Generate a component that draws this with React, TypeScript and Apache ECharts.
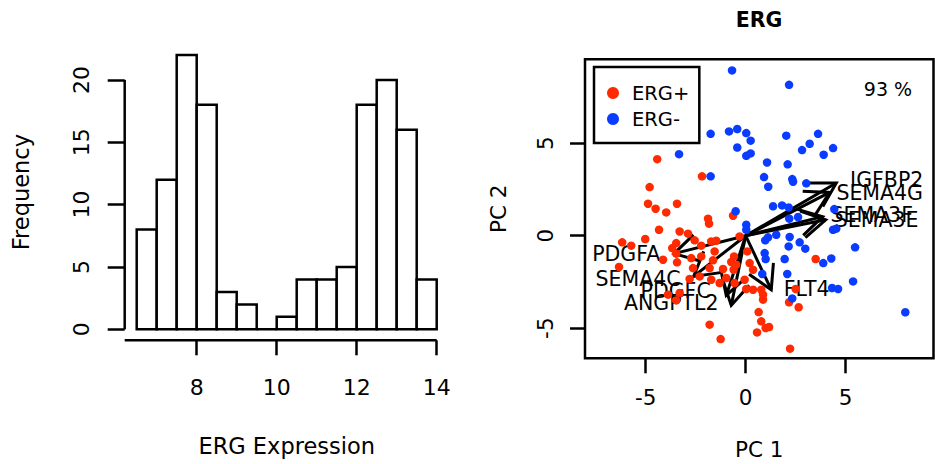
import { useEffect, useRef } from 'react';
import * as echarts from 'echarts';

// ---------- Histogram data ----------
const binEdges = [6.5, 7, 7.5, 8, 8.5, 9, 9.5, 10, 10.5, 11, 11.5, 12, 12.5, 13, 13.5, 14];
const binCounts = [8, 12, 22, 18, 3, 2, 0, 1, 4, 4, 5, 18, 20, 16, 4];
const histXTicks = [8, 10, 12, 14];
const histYTicks = [0, 5, 10, 15, 20];

// ---------- PCA data ----------
const pcTicks = [-5, 0, 5];
const ergPos: number[][] = [
  [-4.42, 4.14], [-2.18, 3.21], [-4.8, 2.63], [-4.88, 1.73], [-4.5, 1.46], [-3.97, 1.26], [-3.43, 1.73],
  [-1.88, 0.92], [-1.83, 0.65], [-0.63, 1.08], [-4.33, 0.32], [-3.3, 0.23], [-2.88, 0.11], [-6.17, -0.36],
  [-5.72, -0.54], [-5.02, -0.18], [-3.67, -0.67], [-3.47, -0.4], [-2.55, -0.25], [-2.22, -0.54], [-1.72, -0.31],
  [-1.47, -0.27], [-4.13, -1.3], [-3.47, -0.97], [-3.43, -1.44], [-6.33, -1.69], [-2.72, -1.21], [-2.22, -1.12],
  [-1.55, -0.85], [-1.63, -1.33], [-2.63, -1.75], [-1.8, -1.75], [-1.13, -1.8], [-0.72, -1.42], [-0.58, -1.12],
  [-0.6, -1.84], [0.08, -0.85], [0.2, -1.48], [0.37, -1.84], [-2.8, -2.34], [-2.3, -2.2], [-1.72, -2.38],
  [-0.97, -2.29], [-0.55, -2.56], [-0.05, -2.38], [0.03, -2.88], [0.37, -2.92], [0.78, -2.92], [0.87, -3.19],
  [0.87, -3.46], [-3.47, -3.5], [-3.3, -3.1], [-3.88, -3.19], [2.5, -2.88], [2.17, -3.6], [2.65, -3.87],
  [3.5, -1.26], [0.65, -4.13], [0.78, -4.63], [0.57, -5.23], [1.0, -4.99], [1.17, -4.94], [-1.8, -4.81],
  [-1.25, -5.59], [2.22, -6.11], [-0.3, -0.04], [-0.47, -1.57], [-1.3, -2.56],
];
const ergNeg: number[][] = [
  [-0.68, 8.94], [2.17, 8.16], [-1.75, 5.51], [-0.83, 5.64], [-0.42, 5.77], [0.03, 5.55], [0.25, 5.14],
  [-0.42, 4.77], [0.03, 4.32], [0.25, 4.45], [-3.33, 4.41], [2.03, 5.41], [3.62, 5.51], [3.2, 4.97],
  [2.82, 4.63], [4.37, 4.74], [3.9, 4.38], [1.07, 3.96], [2.1, 3.86], [-1.75, 3.21], [0.92, 3.17],
  [1.13, 2.65], [2.33, 3.06], [2.37, 2.92], [3.03, 2.83], [-0.5, 1.32], [1.37, 1.59], [1.82, 1.64],
  [2.15, 1.53], [2.18, 0.92], [2.62, 1.01], [0.03, 0.59], [0.03, 0.32], [1.12, -0.09], [0.98, -0.25],
  [1.53, 0.05], [2.2, -0.07], [2.7, -0.36], [2.98, -0.7], [2.15, -0.58], [0.95, -0.94], [1.0, -1.26],
  [1.95, -1.26], [3.88, -1.48], [4.28, -1.23], [5.47, -0.63], [2.08, -2.07], [0.83, -2.07], [5.37, -2.47],
  [4.32, -2.83], [4.62, -2.88], [2.33, -3.39], [7.98, -4.14], [4.37, 0.32], [4.53, 0.38], [4.43, 1.44],
];

const geneNames = ['IGFBP2', 'SEMA4G', 'SEMA3F', 'SEMA3E', 'PDGFA', 'SEMA4C', 'PDGFC', 'ANGPTL2', 'FLT4'];
const loadingX = [4.53, 4.2, 3.85, 4.0, -3.58, -2.6, -0.97, -0.72, 1.28];
const loadingY = [2.85, 2.34, 1.03, 0.86, -0.97, -2.2, -3.23, -3.77, -2.92];
const labelX = [7.05, 6.7, 6.3, 6.55, -5.97, -5.38, -3.5, -3.72, 3.05];
const labelY = [3.03, 2.32, 1.14, 0.86, -0.99, -2.32, -3.01, -3.64, -2.86];
const varianceText = '93 %';

const FONT = '"DejaVu Sans", sans-serif';
const RED = '#ff2a00';
const BLUE = '#0a3cff';

const HIST_X_MIN = 6.2;
const HIST_X_MAX = 14.3;
const HIST_Y_MIN = -0.88;
const HIST_Y_MAX = 22.88;

export default function App() {
  const ref = useRef<HTMLDivElement>(null);
  useEffect(() => {
    if (!ref.current) return;
    const chart = echarts.init(ref.current, undefined, { renderer: 'svg' });

    const histData = binCounts.map((c, i) => [binEdges[i], binEdges[i + 1], c]);
    const arrowData = geneNames.map((n, i) => ({ name: n, value: [loadingX[i], loadingY[i], labelX[i], labelY[i]] }));

    const tickStyle = { color: '#000', width: 2.5 };

    chart.setOption({
      animation: false,
      backgroundColor: '#fff',
      textStyle: { fontFamily: FONT },
      legend: {
        show: true,
        data: ['ERG+', 'ERG-'],
        orient: 'vertical',
        left: 594,
        top: 67,
        borderColor: '#000',
        borderWidth: 2.5,
        padding: [16, 10, 14, 13],
        itemWidth: 12,
        itemHeight: 12,
        itemGap: 6,
        icon: 'circle',
        textStyle: { fontSize: 19.5, fontFamily: FONT, color: '#000', lineHeight: 20, padding: [0, 0, 0, 8] },
      },
      grid: [
        { left: 124.7, top: 44, width: 324, height: 296.3, outerBoundsMode: 'none', containLabel: false },
        {
          left: 585, top: 59.3, width: 348.5, height: 299, outerBoundsMode: 'none', containLabel: false,
          show: true, borderColor: '#000', borderWidth: 2.5, backgroundColor: 'transparent',
        },
      ],
      xAxis: [
        {
          type: 'value', gridIndex: 0, min: HIST_X_MIN, max: HIST_X_MAX,
          name: 'ERG Expression', nameLocation: 'middle', nameGap: 94,
          nameTextStyle: { color: '#000', fontSize: 22.5, fontFamily: FONT },
          axisLine: { show: false, onZero: false },
          axisTick: { show: true, customValues: histXTicks, length: 15, lineStyle: tickStyle },
          axisLabel: { color: '#000', fontSize: 22, fontFamily: FONT, customValues: histXTicks, margin: 36 },
          splitLine: { show: false },
        },
        {
          type: 'value', gridIndex: 1, min: -8.03, max: 9.39,
          name: 'PC 1', nameLocation: 'middle', nameGap: 80,
          nameTextStyle: { color: '#000', fontSize: 21.5, fontFamily: FONT },
          axisLine: { show: false, onZero: false },
          axisTick: { show: true, customValues: pcTicks, length: 15, lineStyle: tickStyle },
          axisLabel: { color: '#000', fontSize: 21.5, fontFamily: FONT, customValues: pcTicks, margin: 28 },
          splitLine: { show: false },
        },
      ],
      yAxis: [
        {
          type: 'value', gridIndex: 0, min: HIST_Y_MIN, max: HIST_Y_MAX,
          name: 'Frequency', nameLocation: 'middle', nameGap: 92,
          nameTextStyle: { color: '#000', fontSize: 22.5, fontFamily: FONT },
          axisLine: { show: false, onZero: false },
          axisTick: { show: true, customValues: histYTicks, length: 17, lineStyle: tickStyle },
          axisLabel: { color: '#000', fontSize: 22, fontFamily: FONT, customValues: histYTicks, rotate: 90, margin: 32 },
          splitLine: { show: false },
        },
        {
          type: 'value', gridIndex: 1, min: -6.63, max: 9.54,
          name: 'PC 2', nameLocation: 'middle', nameGap: 76,
          nameTextStyle: { color: '#000', fontSize: 21.5, fontFamily: FONT },
          axisLine: { show: false, onZero: false },
          axisTick: { show: true, customValues: pcTicks, length: 15, lineStyle: tickStyle },
          axisLabel: { color: '#000', fontSize: 21.5, fontFamily: FONT, customValues: pcTicks, rotate: 90, margin: 29 },
          splitLine: { show: false },
        },
      ],
      graphic: [
        {
          type: 'text', x: 759, y: 20,
          style: { text: 'ERG', font: `bold 20.5px ${FONT}`, fill: '#000', textAlign: 'center', textVerticalAlign: 'middle', align: 'center', verticalAlign: 'middle' },
        },
        {
          type: 'text', x: 888, y: 89,
          style: { text: varianceText, font: `19px ${FONT}`, fill: '#000', textAlign: 'center', textVerticalAlign: 'middle', align: 'center', verticalAlign: 'middle' },
        },
      ],
      series: [
        {
          type: 'custom', name: 'hist', xAxisIndex: 0, yAxisIndex: 0,
          data: histData,
          renderItem: (params: any, api: any) => {
            const p0 = api.coord([api.value(0), api.value(2)]);
            const p1 = api.coord([api.value(1), 0]);
            return {
              type: 'rect',
              shape: { x: p0[0], y: p0[1], width: p1[0] - p0[0], height: p1[1] - p0[1] },
              style: { fill: '#fff', stroke: '#000', lineWidth: 2.5 },
            };
          },
        },
        {
          type: 'custom', name: 'histAxes', xAxisIndex: 0, yAxisIndex: 0,
          data: [[HIST_X_MIN, HIST_Y_MIN]],
          renderItem: (params: any, api: any) => {
            const a = api.coord([HIST_X_MIN, HIST_Y_MIN]);
            const b = api.coord([histXTicks[histXTicks.length - 1], HIST_Y_MIN]);
            const c = api.coord([HIST_X_MIN, histYTicks[0]]);
            const d = api.coord([HIST_X_MIN, histYTicks[histYTicks.length - 1]]);
            return {
              type: 'group',
              children: [
                { type: 'line', shape: { x1: a[0], y1: a[1], x2: b[0], y2: b[1] }, style: { stroke: '#000', lineWidth: 2.5 } },
                { type: 'line', shape: { x1: c[0], y1: c[1], x2: d[0], y2: d[1] }, style: { stroke: '#000', lineWidth: 2.5 } },
              ],
            };
          },
        },
        {
          type: 'scatter', name: 'ERG+', xAxisIndex: 1, yAxisIndex: 1,
          data: ergPos, symbol: 'circle', symbolSize: 8.5,
          itemStyle: { color: RED, opacity: 1 },
        },
        {
          type: 'scatter', name: 'ERG-', xAxisIndex: 1, yAxisIndex: 1,
          data: ergNeg, symbol: 'circle', symbolSize: 8.5,
          itemStyle: { color: BLUE, opacity: 1 },
        },
        {
          type: 'custom', name: 'loadings', xAxisIndex: 1, yAxisIndex: 1,
          data: arrowData,
          renderItem: (params: any, api: any) => {
            const o = api.coord([0, 0]);
            const t = api.coord([api.value(0), api.value(1)]);
            const l = api.coord([api.value(2), api.value(3)]);
            const ang = Math.atan2(t[1] - o[1], t[0] - o[0]);
            const hl = 27;
            const ha = Math.PI / 6;
            const h1 = [t[0] - hl * Math.cos(ang - ha), t[1] - hl * Math.sin(ang - ha)];
            const h2 = [t[0] - hl * Math.cos(ang + ha), t[1] - hl * Math.sin(ang + ha)];
            return {
              type: 'group',
              children: [
                { type: 'line', shape: { x1: o[0], y1: o[1], x2: t[0], y2: t[1] }, style: { stroke: '#000', lineWidth: 3 } },
                { type: 'polyline', shape: { points: [h1, t, h2] }, style: { stroke: '#000', lineWidth: 3, fill: null } },
                {
                  type: 'text', x: l[0], y: l[1],
                  style: {
                    text: geneNames[params.dataIndex], fill: '#000', font: `20.5px ${FONT}`,
                    align: 'center', verticalAlign: 'middle', textAlign: 'center', textVerticalAlign: 'middle',
                  },
                },
              ],
            };
          },
        },
      ],
    });

    return () => chart.dispose();
  }, []);

  return <div ref={ref} style={{ position: 'fixed', left: 0, top: 0, width: 935, height: 464, background: '#fff' }} />;
}
